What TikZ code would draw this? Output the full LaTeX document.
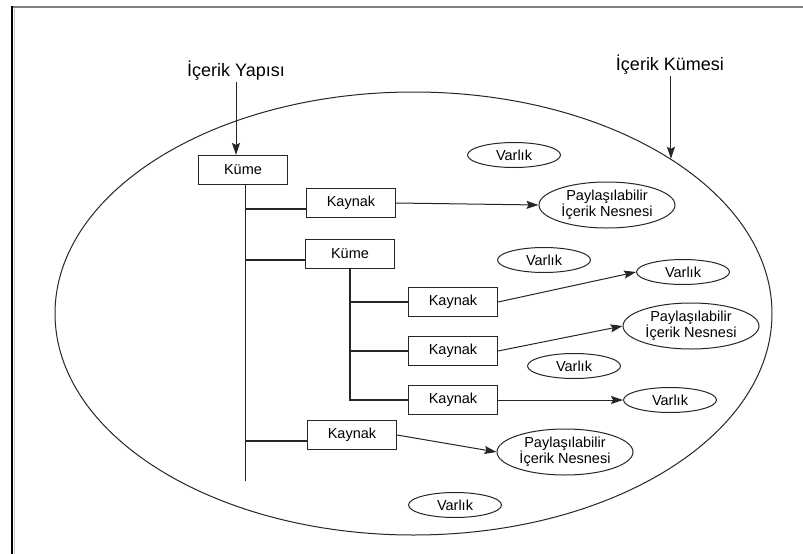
\documentclass[tikz,border=0pt]{standalone}
\usepackage{fontspec}
\setmainfont{Liberation Sans}
\usetikzlibrary{shapes.geometric,arrows.meta}
\begin{document}
\begin{tikzpicture}[x=1pt,y=-1pt,
  ink/.style={draw=black!85, line width=1.1pt},
  boxnode/.style={ink, rectangle, minimum width=89pt, minimum height=29pt, inner sep=0pt,
    font=\fontsize{14.5}{16}\selectfont},
  thing/.style={draw=black!85, line width=1pt, ellipse, minimum width=93pt, minimum height=25pt,
    inner sep=0pt, font=\fontsize{14.5}{16}\selectfont},
  sco/.style={thing, minimum width=136pt, minimum height=46pt, align=center,
    font=\fontsize{14.5}{16}\selectfont},
  label/.style={font=\fontsize{18}{20}\selectfont, inner sep=1pt},
  arr/.style={draw=black!85, line width=1pt, -{Stealth[length=12pt,width=8pt,inset=2pt]}},
  wire/.style={draw=black!85, line width=1.1pt}
]
\useasboundingbox (0,0) rectangle (803,554);
\fill[white] (0,0) rectangle (803,554);

% page frame
\draw[gray, line width=2pt] (11,7) -- (803,7);
\draw[black, line width=2pt] (12,6) -- (12,554);
\draw[black!20, line width=0.8pt] (14.5,9) -- (14.5,554);

% content set
\node[draw=black!85, line width=1pt, ellipse, minimum width=717pt, minimum height=443pt, inner sep=0pt]
  (set) at (413.5,313.5) {};

% content structure
\node[boxnode] (kume1) at (243,170) {Küme};
\node[boxnode] (kaynak1) at (351,203) {Kaynak};
\node[boxnode] (kume2) at (350,254) {Küme};
\node[boxnode] (kaynakA) at (453,302) {Kaynak};
\node[boxnode] (kaynakB) at (453,351) {Kaynak};
\node[boxnode] (kaynakC) at (453,400) {Kaynak};
\node[boxnode] (kaynak2) at (352,435) {Kaynak};

% assets and sharable content objects
\node[thing] (varlik1) at (514,155) {Varlık};
\node[sco]   (pay1) at (607,205) {Paylaşılabilir\\İçerik Nesnesi};
\node[thing] (varlik2) at (544,260) {Varlık};
\node[thing] (varlik3) at (683,272) {Varlık};
\node[sco]   (pay2) at (691,326) {Paylaşılabilir\\İçerik Nesnesi};
\node[thing] (varlik4) at (574,366) {Varlık};
\node[thing] (varlik5) at (670,400) {Varlık};
\node[sco]   (pay3) at (565,452) {Paylaşılabilir\\İçerik Nesnesi};
\node[thing] (varlik6) at (455,505) {Varlık};

% labels
\node[label] (yapisi) at (236,71) {İçerik Yapısı};
\node[label] (kumesi) at (670,65) {İçerik Kümesi};

\draw[arr] (yapisi.south) -- (yapisi.south |- kume1.north);
\coordinate (rim) at (set.31.9);
\draw[arr] (rim |- kumesi.south) -- (rim);

% tree trunks
\coordinate (trunkend) at ([yshift=-296pt]kume1.south);
\draw[wire] ([xshift=2.5pt]kume1.south) -- ([xshift=2.5pt]trunkend);
\draw[wire] ([yshift=-6pt]kaynak1.west) -- ([yshift=-6pt,xshift=2.5pt]kaynak1.west -| kume1.south);
\draw[wire] ([yshift=-6pt]kume2.west) -- ([yshift=-6pt,xshift=2.5pt]kume2.west -| kume1.south);
\draw[wire] ([yshift=-6pt]kaynak2.west) -- ([yshift=-6pt,xshift=2.5pt]kaynak2.west -| kume1.south);

\draw[wire] (kume2.south) -- (kume2.south |- kaynakC.west) -- (kaynakC.west);
\draw[wire] (kaynakA.west) -- (kaynakA.west -| kume2.south);
\draw[wire] (kaynakB.west) -- (kaynakB.west -| kume2.south);

% references
\draw[arr] (kaynak1.east) -- (pay1.west);
\draw[arr] (kaynakA.east) -- (varlik3.west);
\draw[arr] (kaynakB.east) -- (pay2.west);
\draw[arr] (kaynakC.east) -- (varlik5.west);
\draw[arr] (kaynak2.east) -- (pay3.west);
\end{tikzpicture}
\end{document}
